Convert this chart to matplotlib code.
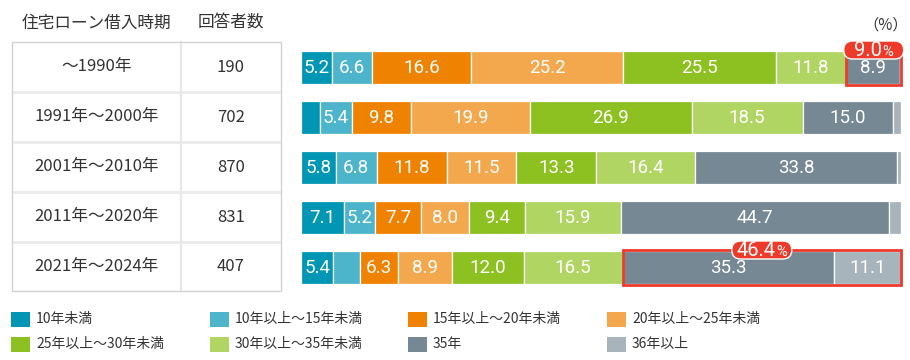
import matplotlib
matplotlib.use("Agg")
import matplotlib.pyplot as plt
from matplotlib.patches import Rectangle, FancyBboxPatch
from matplotlib.offsetbox import TextArea, HPacker, AnnotationBbox
import numpy as np

plt.rcParams['font.family'] = ['Noto Sans CJK JP', 'DejaVu Sans']

# ---------------- data ----------------
periods = ["～1990年", "1991年～2000年", "2001年～2010年", "2011年～2020年", "2021年～2024年"]
respondents = [190, 702, 870, 831, 407]
categories = ["10年未満", "10年以上～15年未満", "15年以上～20年未満", "20年以上～25年未満",
              "25年以上～30年未満", "30年以上～35年未満", "35年", "36年以上"]
colors = ["#0096b4", "#4db5cb", "#ef8200", "#f3a84e", "#8dc021", "#b0d563", "#778895", "#a8b4bc"]
s_lt10 = [5.2, 3.1, 5.8, 7.1, 5.4]
s_10_15 = [6.6, 5.4, 6.8, 5.2, 4.5]
s_15_20 = [16.6, 9.8, 11.8, 7.7, 6.3]
s_20_25 = [25.2, 19.9, 11.5, 8.0, 8.9]
s_25_30 = [25.5, 26.9, 13.3, 9.4, 12.0]
s_30_35 = [11.8, 18.5, 16.4, 15.9, 16.5]
s_35 = [8.9, 15.0, 33.8, 44.7, 35.3]
s_36 = [0.1, 1.4, 0.6, 2.0, 11.1]
series = [s_lt10, s_10_15, s_15_20, s_20_25, s_25_30, s_30_35, s_35, s_36]
highlight_rows = [0, 4]
highlight_from_series = 6          # highlight 35年 and above
highlight_totals = ["9.0", "46.4"]
header_period = "住宅ローン借入時期"
header_count = "回答者数"
unit_label = "（%）"

TXT = "#333333"
RED = "#ee3a2b"

W, H = 910, 360
fig = plt.figure(figsize=(W / 100, H / 100), dpi=100)

# overlay axes in pixel coordinates (top-left origin)
ov = fig.add_axes([0, 0, 1, 1], zorder=5)
ov.set_xlim(0, W)
ov.set_ylim(H, 0)
ov.axis("off")
ov.patch.set_alpha(0)

# bar axes
bx0, bx1, by0, by1 = 301, 901, 42, 292
ax = fig.add_axes([bx0 / W, 1 - by1 / H, (bx1 - bx0) / W, (by1 - by0) / H], zorder=2)
ax.set_xlim(0, 100)
ax.set_ylim(len(periods) - 0.5, -0.5)
ax.axis("off")

ypos = np.arange(len(periods))
left = np.zeros(len(periods))
bh = 0.66
for vals, col in zip(series, colors):
    vals = np.array(vals)
    ax.barh(ypos, vals, left=left, height=bh, color=col, edgecolor="white", linewidth=0.9)
    for i, v in enumerate(vals):
        if v >= 5:
            ax.text(left[i] + v / 2, ypos[i] + 0.02, f"{v:.1f}", ha="center", va="center",
                    color="white", fontsize=13.5, family=["Roboto", "DejaVu Sans"])
    left += vals

# highlight boxes and pills
cum = np.cumsum(np.array(series), axis=0)
for r, tot in zip(highlight_rows, highlight_totals):
    start = cum[highlight_from_series - 1][r]
    ax.add_patch(Rectangle((start, ypos[r] - bh / 2 - 0.01), 100 - start, bh + 0.03,
                           fill=False, ec=RED, lw=2, zorder=4, clip_on=False))
    disp = ax.transData.transform(((start + 100) / 2, ypos[r] - bh / 2))
    cx, cy = ov.transData.inverted().transform(disp)
    cy -= 0.5
    pw, ph = 60, 18
    ov.add_patch(FancyBboxPatch((cx - pw / 2, cy - ph / 2), pw, ph,
                                boxstyle="round,pad=0,rounding_size=9",
                                fc=RED, ec="white", lw=1, zorder=6))
    pack = HPacker(children=[
        TextArea(tot, textprops=dict(color="white", fontsize=14.5, family=["Roboto", "DejaVu Sans"])),
        TextArea("%", textprops=dict(color="white", fontsize=10.5, family=["Roboto", "DejaVu Sans"]))],
        sep=0, align="baseline", pad=0)
    ab = AnnotationBbox(pack, (cx, cy + 0.5), xycoords="data", frameon=False,
                        box_alignment=(0.5, 0.5), zorder=7)
    ov.add_artist(ab)

# unit label
ov.text(886, 25, unit_label, ha="center", va="center", fontsize=11, color=TXT)

# ---------------- table ----------------
tx0, tx1, tcol = 11.5, 280.5, 181
row_lines = [42, 92, 142, 192, 242, 291]
ov.text((tx0 + tcol) / 2, 23, header_period, ha="center", va="center", fontsize=12, color=TXT)
ov.text((tcol + tx1) / 2, 23, header_count, ha="center", va="center", fontsize=12, color=TXT)
for yl in row_lines[1:-1]:
    ov.plot([tx0, tx1], [yl, yl], color="#ebebeb", lw=2, solid_capstyle="butt", zorder=1)
ov.plot([tcol, tcol], [row_lines[0], row_lines[-1]], color="#e8e8e8", lw=1.6, zorder=1)
ov.add_patch(Rectangle((tx0, row_lines[0]), tx1 - tx0, row_lines[-1] - row_lines[0],
                       fill=False, ec="#d2d2d2", lw=1, zorder=2))
for i, (p, n) in enumerate(zip(periods, respondents)):
    yc = (row_lines[i] + row_lines[i + 1]) / 2
    ov.text((tx0 + tcol) / 2, yc, p, ha="center", va="center", fontsize=12, color=TXT)
    ov.text((tcol + tx1) / 2, yc, str(n), ha="center", va="center", fontsize=12, color=TXT)

# ---------------- legend ----------------
leg_x = [11, 210, 408, 607]
leg_y = [319, 344]
for k, (lab, col) in enumerate(zip(categories, colors)):
    lx = leg_x[k % 4]
    ly = leg_y[k // 4]
    ov.add_patch(Rectangle((lx, ly - 7.5), 19, 15, fc=col, ec="none"))
    ov.text(lx + 25, ly, lab, ha="left", va="center", fontsize=10, color=TXT)

fig.savefig("out.png", dpi=100)
